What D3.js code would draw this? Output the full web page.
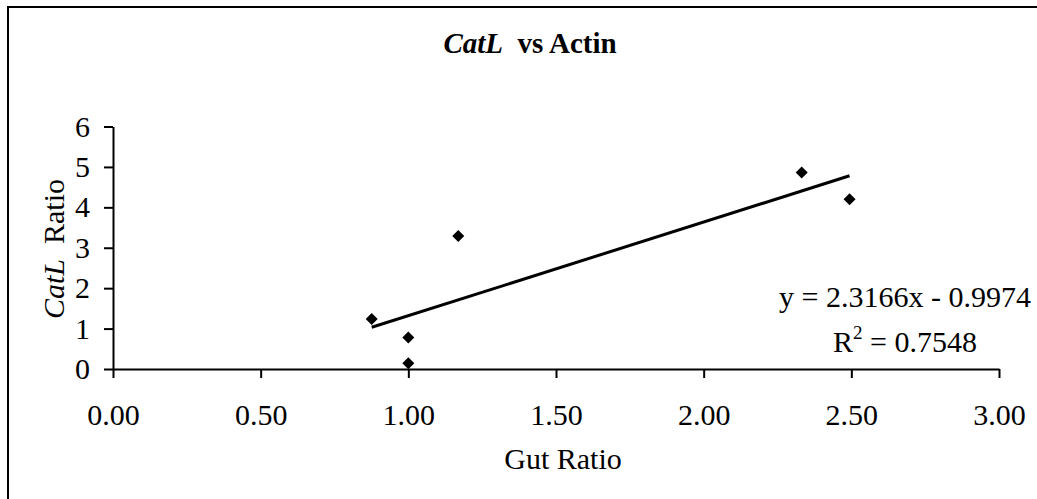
<!DOCTYPE html>
<html>
<head>
<meta charset="utf-8">
<script src="https://cdn.jsdelivr.net/npm/d3@7"></script>
<style>
  body { margin: 0; background: #fff; }
  svg text { font-family: "Liberation Serif", "Times New Roman", serif; fill: #000; white-space: pre; }
</style>
</head>
<body>
<div id="chart"></div>
<script>
// data
const gutRatio = [0.876, 1.0, 1.0, 1.169, 2.332, 2.494];
const catlRatio = [1.24, 0.78, 0.14, 3.29, 4.86, 4.20];
const xTicks = [0, 0.5, 1, 1.5, 2, 2.5, 3];
const yTicks = [0, 1, 2, 3, 4, 5, 6];
const trend = [2.3166, -0.9974]; // slope, intercept
const rSquared = 0.7548;

const width = 1037, height = 499;
const fontSize = '30px';

const svg = d3.select('#chart')
    .append('svg')
    .attr('width', width)
    .attr('height', height);

// outer frame (right and bottom edges fall outside the picture)
svg.append('rect')
    .attr('x', 8).attr('y', 7)
    .attr('width', width + 20).attr('height', height + 20)
    .attr('fill', 'none')
    .attr('stroke', '#000')
    .attr('stroke-width', 2);

const x = d3.scaleLinear().domain([0, 3]).range([113, 999]);
const y = d3.scaleLinear().domain([0, 6]).range([369, 126.5]);

const xAxis = svg.append('g')
    .attr('transform', `translate(0,${y(0)})`)
    .call(d3.axisBottom(x).tickValues(xTicks).tickFormat(d3.format('.2f')).tickSize(9).tickSizeOuter(0).tickPadding(26));

const yAxis = svg.append('g')
    .attr('transform', `translate(${x(0)},0)`)
    .call(d3.axisLeft(y).tickValues(yTicks).tickFormat(d3.format('d')).tickSize(9).tickSizeOuter(0).tickPadding(14));

[xAxis, yAxis].forEach(g => {
    g.selectAll('path, line').attr('stroke', '#000').attr('stroke-width', 2);
    g.selectAll('text').style('font-size', fontSize).attr('font-family', null);
});
xAxis.selectAll('text').attr('dy', '0.71em');

// trend line over the range of the data
const xs = d3.extent(gutRatio);
svg.append('line')
    .attr('x1', x(xs[0])).attr('y1', y(trend[0] * xs[0] + trend[1]))
    .attr('x2', x(xs[1])).attr('y2', y(trend[0] * xs[1] + trend[1]))
    .attr('stroke', '#000')
    .attr('stroke-width', 3);

// points as diamonds
svg.selectAll('path.pt')
    .data(gutRatio.map((g, i) => [g, catlRatio[i]]))
    .join('path')
    .classed('pt', true)
    .attr('d', d3.symbol(d3.symbolSquare, 72))
    .attr('transform', d => `translate(${x(d[0])},${y(d[1])}) rotate(45)`)
    .attr('fill', '#000');

// title
const title = svg.append('text')
    .attr('x', 530).attr('y', 53)
    .attr('text-anchor', 'middle')
    .style('font-size', '29px')
    .style('font-weight', 'bold');
title.append('tspan').style('font-style', 'italic').text('CatL');
title.append('tspan').text('  vs Actin');

// axis titles
svg.append('text')
    .attr('x', 563).attr('y', 469)
    .attr('text-anchor', 'middle')
    .style('font-size', fontSize)
    .text('Gut Ratio');

const yTitle = svg.append('text')
    .attr('transform', 'translate(64,249) rotate(-90)')
    .attr('text-anchor', 'middle')
    .style('font-size', fontSize);
yTitle.append('tspan').style('font-style', 'italic').text('CatL');
yTitle.append('tspan').text('  Ratio');

// regression label
svg.append('text')
    .attr('x', 905).attr('y', 307)
    .attr('text-anchor', 'middle')
    .style('font-size', fontSize)
    .text(`y = ${trend[0]}x - ${Math.abs(trend[1])}`);

const r2 = svg.append('text')
    .attr('x', 905).attr('y', 352)
    .attr('text-anchor', 'middle')
    .style('font-size', fontSize);
r2.append('tspan').text('R');
r2.append('tspan').attr('dy', -13).style('font-size', '19px').text('2');
r2.append('tspan').attr('dy', 13).text(` = ${rSquared}`);
</script>
</body>
</html>
